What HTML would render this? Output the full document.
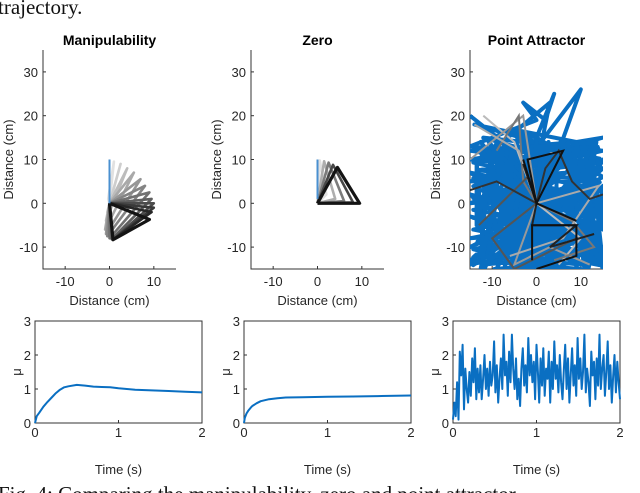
<!DOCTYPE html>
<html><head><meta charset="utf-8"><style>
body{margin:0;background:#fff;}
svg{display:block;font-family:"Liberation Sans",sans-serif;}
</style></head><body>
<svg id="fig" width="640" height="493" viewBox="0 0 640 493">
<defs>
<clipPath id="c0"><rect x="43" y="50" width="133" height="219"/></clipPath>
<clipPath id="c1"><rect x="251" y="50" width="133" height="219"/></clipPath>
<clipPath id="c2"><rect x="470" y="50" width="133" height="219"/></clipPath>
</defs>
<text x="-2" y="14" font-family="Liberation Serif" font-size="21" fill="#111">trajectory.</text>
<text x="-2" y="501" font-family="Liberation Serif" font-size="21" fill="#111">Fig. 4: Comparing the manipulability, zero and point attractor</text>
</svg>
<script>
// ---- data ----
const titles=["Manipulability","Zero","Point Attractor"];
const xTicks=[-10,0,10];
const yTicks=[-10,0,10,20,30];
const muTicks=[0,1,2,3];
const tTicks=[0,1,2];
const manipStart=[[0,0],[0,10]];
const manipElbow=[[1,9.5],[2.5,9],[4,8],[5.5,7],[7,5.5],[8,4],[9,2.5],[9.5,1],[10,0],[10,-1],[9.5,-2],[9,-3.7]];
const manipTip=[[-0.3,1],[-0.5,-2],[-0.8,-4],[-1,-6],[-0.8,-7],[-0.5,-7.5],[0,-8],[0.5,-8.2],[0.8,-8.3],[0.8,-8.3],[0.8,-8.3],[0.8,-8.3]];
const zeroStart=[[0,1],[0,10]];
const zeroElbow=[[0.5,9.8],[1.5,9.6],[2.5,9.3],[3.5,8.8],[4.5,8.2]];
const zeroTip=[[2,2],[4,1],[6,0.5],[8,0.2],[9.5,0]];
const attrBlue=[[-15,20],[-5,12],[-15,13],[0,19],[-3,23],[2,19],[4,25],[-2,10],[10,26],[5,12],[15,15],[-15,10],[12,8],[-12,15],[15,12],[-15,5],[10,5],[-8,-2],[15,3],[-15,0],[5,8],[-10,-5],[15,-2],[-15,-8],[12,-6],[-12,-14],[8,-12],[-15,-3],[15,-10],[-5,-15],[10,-15],[-15,-13],[3,-5],[15,-14],[-10,8],[14,10],[-14,18],[0,15],[15,6],[-15,-10],[8,0],[-6,3],[15,0],[-13,-5],[12,-12],[-8,-10],[15,-5],[-15,2],[6,-14],[-3,-8],[15,8],[-15,12],[9,14],[-6,17],[2,7],[-15,-14],[14,-8],[-10,12],[3,23],[-1,3],[15,-12],[-15,7],[11,2],[-9,0],[13,14],[-14,-2]];
const attrGrays=[
 {g:"#bbb",p:[[-12,20],[-5,14],[0,0],[10,-8],[5,-14]]},
 {g:"#999",p:[[-15,10],[-3,20],[0,0],[-5,-14],[3,-10],[12,-14]]},
 {g:"#777",p:[[-9,12],[-4,20],[-3,5],[0,0],[8,-4],[13,-10],[4,-13]]},
 {g:"#aaa",p:[[-14,18],[-4,12],[0,0],[14,4],[6,-8],[-6,-12]]},
 {g:"#555",p:[[-13,-5],[-2,6],[0,0],[-10,-8],[-5,-15],[9,-8]]},
 {g:"#333",p:[[-15,3],[-9,5],[0,0],[2,8],[5,12],[8,5],[12,1],[15,2]]},
 {g:"#222",p:[[-3,9],[0,0],[-1,-5],[9,-5],[3,-10],[13,-7]]},
 {g:"#111",p:[[-1,-13],[-1,-5],[9,-5],[9,-12],[0,-15]]},
 {g:"#111",p:[[-3,10],[0,0],[6,12],[-2,10],[0,0],[9,-4]]}
];
const manipT=[0,0.02,0.05,0.1,0.15,0.2,0.25,0.3,0.35,0.4,0.5,0.6,0.7,0.8,0.9,1.0,1.1,1.2,1.4,1.6,1.8,2.0];
const manipMu=[0,0.2,0.3,0.48,0.62,0.75,0.88,0.98,1.05,1.08,1.12,1.1,1.07,1.06,1.05,1.02,1.0,0.98,0.96,0.94,0.92,0.9];
const zeroT=[0,0.01,0.03,0.05,0.08,0.1,0.15,0.2,0.3,0.4,0.5,0.7,1.0,1.3,1.6,2.0];
const zeroMu=[0,0.15,0.28,0.36,0.45,0.5,0.58,0.64,0.7,0.73,0.75,0.76,0.77,0.78,0.79,0.81];
const attrMu=[0.1,0.6,0.2,1.2,0.1,2.1,1.4,2.3,0.4,1.6,1.0,0.6,1.5,0.8,1.9,1.2,2.2,0.7,1.6,0.9,1.7,0.7,1.3,2.0,1.0,1.6,0.8,1.8,1.1,1.4,2.4,0.9,1.7,0.6,1.3,1.9,1.0,2.6,1.4,1.8,0.8,2.1,1.2,2.6,1.6,1.0,1.9,0.7,1.3,0.5,1.6,2.2,1.1,1.7,0.9,2.5,1.4,2.0,1.2,1.8,0.7,2.3,1.5,0.6,1.9,1.1,2.2,0.8,1.6,1.3,2.1,0.6,1.8,1.0,2.4,1.3,1.7,0.9,2.0,1.2,0.7,1.6,2.3,1.0,1.9,0.6,1.4,2.2,1.1,1.7,0.8,2.5,1.3,1.9,1.0,1.5,2.6,0.9,1.6,1.2,0.5,2.1,1.4,1.8,0.7,1.9,1.1,2.6,1.0,1.6,2.0,0.8,1.5,2.4,1.0,1.7,0.6,1.4,2.0,0.9,1.8,1.2,0.7];
// ---- drawing ----
const svg=document.getElementById('fig');const NS='http://www.w3.org/2000/svg';
function mk(tag,attrs,parent){const e=document.createElementNS(NS,tag);for(const k in attrs)e.setAttribute(k,attrs[k]);(parent||svg).appendChild(e);return e;}
function txt(x,y,s,size,extra){const e=mk('text',Object.assign({x:x,y:y,'font-size':size,'text-anchor':'middle',fill:'#262626'},extra||{}));e.textContent=s;return e;}
const topL=[43,251,470];const TW=133,TT=50,TB=269;
function sx(i,v){return topL[i]+(v+15)/30*TW;}
function sy(v){return TB-(v+15)/50*(TB-TT);}
function pts(i,arr){return arr.map(p=>sx(i,p[0]).toFixed(1)+','+sy(p[1]).toFixed(1)).join(' ');}
for(let i=0;i<3;i++){
 const g=mk('g',{});
 
 
 const t=txt(topL[i]+TW/2,45,titles[i],14,{'font-weight':'bold',fill:'#000'});
 
 
 const ax=mk('path',{d:`M${topL[i]},${TT}V${TB}H${topL[i]+TW}`,stroke:'#333',fill:'none','stroke-width':1});
 
 
 xTicks.forEach(v=>{mk('line',{x1:sx(i,v),x2:sx(i,v),y1:TB,y2:TB-3,stroke:'#333'});const l=txt(sx(i,v),286,String(v),13);});
 yTicks.forEach(v=>{mk('line',{x1:topL[i],x2:topL[i]+3,y1:sy(v),y2:sy(v),stroke:'#333'});const l=txt(topL[i]-5,sy(v)+5,String(v),13,{'text-anchor':'end'});});
 const xl=txt(topL[i]+TW/2,305,'Distance (cm)',13);
 const yx=topL[i]-30,yy=(TT+TB)/2;
 const yl=txt(yx,yy,'Distance (cm)',13,{transform:`rotate(-90 ${yx} ${yy})`});
}
function drawArm(i,start,elb,tip,closeBack){
 const cg=mk('g',{'clip-path':`url(#c${i})`});
 const n=elb.length;
 for(let k=0;k<n;k++){
  const c=Math.round(225-(225-20)*k/(n-1));
  const arr=[[0,0],elb[k],tip[k]];if(closeBack)arr.push([0,0]);
  const pl=mk('polyline',{points:pts(i,arr),fill:'none',stroke:`rgb(${c},${c},${c})`,'stroke-width':k==n-1?3.2:2.6,'stroke-linejoin':'round'},cg);
  
  
 }
 const b=mk('polyline',{points:pts(i,start),fill:'none',stroke:'#4a90d0','stroke-width':2},cg);
 
 
}
drawArm(0,manipStart,manipElbow,manipTip,true);
drawArm(1,zeroStart,zeroElbow,zeroTip,true);
{const cg=mk('g',{'clip-path':'url(#c2)'});
 const b=mk('polyline',{points:pts(2,attrBlue),fill:'none',stroke:'#0a6fc2','stroke-width':4,'stroke-linejoin':'round'},cg);
 
 
 const b2=mk('polyline',{points:pts(2,attrBlue.map(p=>[-p[0]*0.95,Math.min(p[1],16)*0.9-1.5])),fill:'none',stroke:'#0a6fc2','stroke-width':4,'stroke-linejoin':'round'},cg);
 
 
 const b3=mk('polyline',{points:pts(2,attrBlue.map(p=>[p[1]*0.9>15?15:Math.max(-15,p[1]*0.9),Math.max(-15,Math.min(14,p[0]))])),fill:'none',stroke:'#0a6fc2','stroke-width':4,'stroke-linejoin':'round'},cg);
 
 
 attrGrays.forEach(o=>{const p=mk('polyline',{points:pts(2,o.p),fill:'none',stroke:o.g,'stroke-width':2},cg);});
}
// bottom
const botL=[35,244,453];const BW=167,BT=321,BB=423;
function bx(i,t){return botL[i]+t/2*BW;}
function by(m){return BB-m/3*(BB-BT);}
for(let i=0;i<3;i++){
 const r=mk('rect',{x:botL[i],y:BT,width:BW,height:BB-BT,fill:'none',stroke:'#333','stroke-width':1});
 
 
 tTicks.forEach(v=>{mk('line',{x1:bx(i,v),x2:bx(i,v),y1:BB,y2:BB-3,stroke:'#333'});const l=txt(bx(i,v),437,String(v),13);});
 muTicks.forEach(v=>{mk('line',{x1:botL[i],x2:botL[i]+3,y1:by(v),y2:by(v),stroke:'#333'});const l=txt(botL[i]-4,by(v)+5,String(v),13,{'text-anchor':'end'});});
 const xl=txt(botL[i]+BW/2,474,'Time (s)',13);
 const yx=botL[i]-14,yy=(BT+BB)/2;
 const yl=txt(yx,yy,'μ',13,{transform:`rotate(-90 ${yx} ${yy})`});
}
function curve(i,T,M){const p=mk('polyline',{points:T.map((t,k)=>bx(i,t).toFixed(1)+','+by(M[k]).toFixed(1)).join(' '),fill:'none',stroke:'#0a6fc2','stroke-width':2,'stroke-linejoin':'round'});}
curve(0,manipT,manipMu);
curve(1,zeroT,zeroMu);
curve(2,attrMu.map((v,k)=>k*2/(attrMu.length-1)),attrMu);
</script>
</body></html>
